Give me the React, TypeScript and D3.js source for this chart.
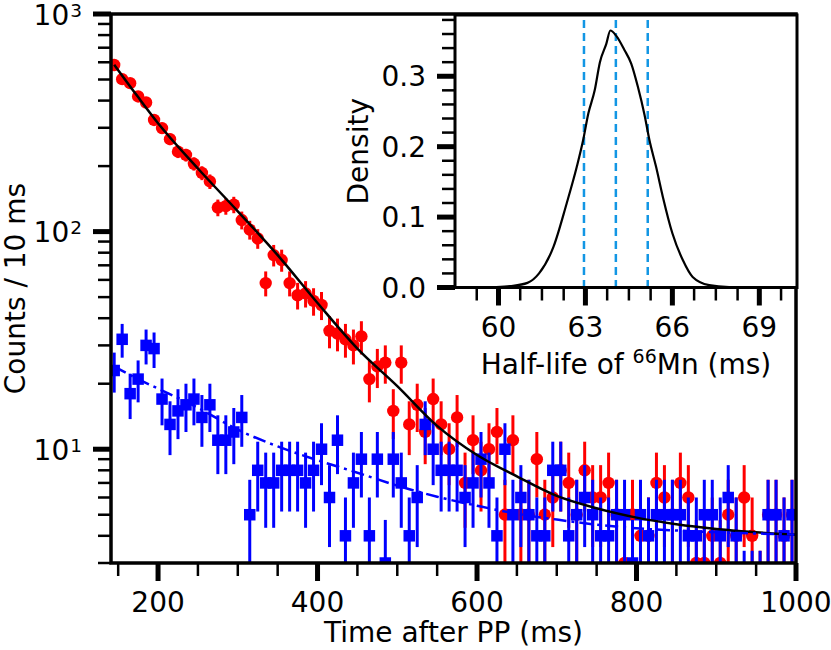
import { useEffect, useRef } from "react"
import * as d3 from "d3"

// 10 ms bins, bin centres (ms after proton pulse)
const binTimes = [
  145, 155, 165, 175, 185, 195, 205, 215, 225, 235, 245, 255, 265, 275, 285, 295, 305, 315, 325, 335,
  345, 355, 365, 375, 385, 395, 405, 415, 425, 435, 445, 455, 465, 475, 485, 495, 505, 515, 525, 535,
  545, 555, 565, 575, 585, 595, 605, 615, 625, 635, 645, 655, 665, 675, 685, 695, 705, 715, 725, 735,
  745, 755, 765, 775, 785, 795, 805, 815, 825, 835, 845, 855, 865, 875, 885, 895, 905, 915, 925, 935,
  945, 955, 965, 975, 985, 995,
]

// red circles: gated 66Mn decay counts
const mnCounts = [
  583, 502, 481, 418, 392, 326, 299, 266, 233, 225, 205, 186, 170, 129, 131, 133, 113, 102, 93, 58,
  78, 74, 58, 51, 52, 48, 46, 35, 34, 32, 30, 33, 21, 24, 25, 15, 25, 13, 16, 12,
  17, 13, 10, 14, 7, 11, 8, 10, 12, 5, 11, 5, 5, 9, 5, 6, 8, 7, 5, 8,
  6, 6, 7, 5, 3, 5, 4, 4, 7, 6, 5, 7, 6, 3, 3, 4, 3, 5, 4, 6,
  4, 2, 5, 5, 4, 5,
]

// blue squares: second gate
const bgCounts = [
  23, 32, 18, 21, 30, 29, 17, 13, 15, 16, 17, 14, 16, 11, 11, 12, 14, 5, 8, 7,
  7, 8, 8, 8, 7, 8, 10, 6, 11, 4, 7, 9, 4, 9, 3, 9, 7, 4, 6, 13,
  10, 8, 8, 8, 6, 7, 9, 7, 4, 10, 5, 6, 5, 4, 4, 8, 8, 4, 5, 6,
  5, 4, 4, 5, 5, 3, 5, 4, 5, 5, 5, 5, 4, 4, 5, 5, 4, 6, 4, 2,
  2, 2, 5, 5, 4, 5,
]

// fit curves
const fitTimes = [145, 175, 200, 250, 300, 350, 400, 450, 500, 550, 600, 650, 700, 750, 800, 850, 900, 950, 1000]
const mnFit = [585, 415, 315, 195, 124, 78, 47, 29, 19.5, 12.8, 9.4, 7.5, 6.1, 5.35, 4.85, 4.52, 4.3, 4.15, 4.05]
const bgFit = [24, 21, 19, 15.5, 12.3, 10.3, 8.9, 7.8, 6.8, 6.05, 5.5, 5.05, 4.75, 4.5, 4.33, 4.23, 4.15, 4.1, 4.05]

const xMajor = [200, 400, 600, 800, 1000]
const xMinor = [150, 250, 300, 350, 450, 500, 550, 650, 700, 750, 850, 900, 950]
const yMajor = [10, 100, 1000]
const yMajorExp = ["1", "2", "3"]
const yMinor = [3, 4, 5, 6, 7, 8, 9, 20, 30, 40, 50, 60, 70, 80, 90, 200, 300, 400, 500, 600, 700, 800, 900]

// inset: posterior of the half-life
const hlGrid = [
  59.5, 59.9, 60.4, 61.0, 61.4, 61.9, 62.35, 62.7, 62.92, 63.1, 63.32, 63.5, 63.72, 63.86, 64.07,
  64.35, 64.58, 64.81, 65.04, 65.21, 65.44, 65.67, 66.0, 66.36, 66.7, 67.27, 67.96, 69.0,
]
const hlDensity = [
  0, 0.0005, 0.002, 0.0066, 0.02, 0.058, 0.119, 0.171, 0.209, 0.247, 0.28, 0.32, 0.346, 0.365, 0.357,
  0.337, 0.318, 0.285, 0.245, 0.209, 0.171, 0.129, 0.077, 0.039, 0.015, 0.0033, 0.0005, 0,
]
const hlQuantiles = [62.95, 64.05, 65.15]
const insetXMajor = [60, 63, 66, 69]
const insetXMinor = [59.25, 60.75, 61.5, 62.25, 63.75, 64.5, 65.25, 66.75, 67.5, 68.25, 69.75]
const insetYMajor = [0, 0.1, 0.2, 0.3]
const insetYMinor = [0.02, 0.04, 0.06, 0.08, 0.12, 0.14, 0.16, 0.18, 0.22, 0.24, 0.26, 0.28, 0.32, 0.34, 0.36, 0.38]

export default function App() {
  const svgRef = useRef<SVGSVGElement>(null)

  useEffect(() => {
    if (!svgRef.current) return
    const svg = d3.select(svgRef.current)
    svg.selectAll("*").remove()

    const font = "DejaVu Sans, sans-serif"
    const fs = 28

    const left = 111, right = 796, top = 14, bottom = 563
    const x = d3.scaleLinear().domain([141, 1000]).range([left, right])
    const y = d3.scaleLog().domain([3, 1000]).range([bottom, top])

    svg
      .append("defs")
      .append("clipPath")
      .attr("id", "plot-clip")
      .append("rect")
      .attr("x", left)
      .attr("y", top)
      .attr("width", right - left)
      .attr("height", bottom - top)

    const plot = svg.append("g").attr("clip-path", "url(#plot-clip)")

    const drawSeries = (counts: number[], color: string, square: boolean) => {
      const pts = binTimes.map((t, i) => ({ t, n: counts[i] }))
      const g = plot.append("g")
      g.selectAll("line")
        .data(pts)
        .join("line")
        .attr("x1", (d) => x(d.t))
        .attr("x2", (d) => x(d.t))
        .attr("y1", (d) => y(d.n + Math.sqrt(d.n)))
        .attr("y2", (d) => y(Math.max(d.n - Math.sqrt(d.n), 0.5)))
        .attr("stroke", color)
        .attr("stroke-width", 3)
      if (square) {
        const s = 11.5
        g.selectAll("rect")
          .data(pts)
          .join("rect")
          .attr("x", (d) => x(d.t) - s / 2)
          .attr("y", (d) => y(d.n) - s / 2)
          .attr("width", s)
          .attr("height", s)
          .attr("fill", color)
      } else {
        g.selectAll("circle")
          .data(pts)
          .join("circle")
          .attr("cx", (d) => x(d.t))
          .attr("cy", (d) => y(d.n))
          .attr("r", 6.2)
          .attr("fill", color)
      }
    }

    drawSeries(mnCounts, "#ff0000", false)
    drawSeries(bgCounts, "#0000ff", true)

    const fitLine = d3
      .line<number>()
      .x((_, i) => x(fitTimes[i]))
      .y((d) => y(d))
      .curve(d3.curveMonotoneX)

    plot
      .append("path")
      .datum(mnFit)
      .attr("fill", "none")
      .attr("stroke", "#000")
      .attr("stroke-width", 2.5)
      .attr("d", fitLine)

    plot
      .append("path")
      .datum(bgFit)
      .attr("fill", "none")
      .attr("stroke", "#0000ff")
      .attr("stroke-width", 2.5)
      .attr("stroke-dasharray", "13,5,3,5")
      .attr("d", fitLine)

    // ticks
    const ticksX = (vals: number[], sc: (v: number) => number, base: number, len: number, w: number) => {
      svg.append("g")
        .selectAll("line")
        .data(vals)
        .join("line")
        .attr("x1", (d) => sc(d))
        .attr("x2", (d) => sc(d))
        .attr("y1", base)
        .attr("y2", base + len)
        .attr("stroke", "#000")
        .attr("stroke-width", w)
    }
    const ticksY = (vals: number[], sc: (v: number) => number, base: number, len: number, w: number) => {
      svg.append("g")
        .selectAll("line")
        .data(vals)
        .join("line")
        .attr("y1", (d) => sc(d))
        .attr("y2", (d) => sc(d))
        .attr("x1", base)
        .attr("x2", base - len)
        .attr("stroke", "#000")
        .attr("stroke-width", w)
    }

    ticksX(xMinor, x, bottom, 13, 2.5)
    ticksX(xMajor, x, bottom, 18, 5)
    ticksY(yMinor, y, left, 13, 2.5)
    ticksY(yMajor, y, left, 18, 5)

    svg
      .append("rect")
      .attr("x", left)
      .attr("y", top)
      .attr("width", right - left)
      .attr("height", bottom - top)
      .attr("fill", "none")
      .attr("stroke", "#000")
      .attr("stroke-width", 3.5)

    svg.append("g")
      .selectAll("text")
      .data(xMajor)
      .join("text")
      .attr("x", (d) => x(d))
      .attr("y", 612)
      .attr("text-anchor", "middle")
      .attr("font-family", font)
      .attr("font-size", fs)
      .text((d) => String(d))

    const yl = svg.append("g")
      .selectAll("text")
      .data(yMajor)
      .join("text")
      .attr("x", 82)
      .attr("y", (d) => y(d) + 10.5)
      .attr("text-anchor", "end")
      .attr("font-family", font)
      .attr("font-size", fs)
    yl.append("tspan").text("10")
    yl.append("tspan")
      .attr("font-size", 18.5)
      .attr("dx", 1)
      .attr("dy", -8)
      .text((_, i) => yMajorExp[i])

    svg
      .append("text")
      .attr("x", (left + right) / 2)
      .attr("y", 642)
      .attr("text-anchor", "middle")
      .attr("font-family", font)
      .attr("font-size", fs)
      .text("Time after PP (ms)")

    svg
      .append("text")
      .attr("transform", `translate(25,${(top + bottom) / 2}) rotate(-90)`)
      .attr("text-anchor", "middle")
      .attr("font-family", font)
      .attr("font-size", fs)
      .text("Counts / 10 ms")

    // inset
    const il = 455, ir = 797, it = 15, ib = 287.5
    const ix = d3.scaleLinear().domain([58.5, 70.3]).range([il, ir])
    const iy = d3.scaleLinear().domain([0, 0.387]).range([ib, it])

    svg
      .append("rect")
      .attr("x", il)
      .attr("y", it)
      .attr("width", ir - il)
      .attr("height", ib - it)
      .attr("fill", "#fff")

    svg
      .append("g")
      .selectAll("line")
      .data(hlQuantiles)
      .join("line")
      .attr("x1", (d) => ix(d))
      .attr("x2", (d) => ix(d))
      .attr("y1", it + 5)
      .attr("y2", ib)
      .attr("stroke", "#1296e4")
      .attr("stroke-width", 2.5)
      .attr("stroke-dasharray", "8,5")

    const hist = d3
      .line<number>()
      .x((_, i) => ix(hlGrid[i]))
      .y((d) => iy(d))
      .curve(d3.curveMonotoneX)

    svg
      .append("path")
      .datum(hlDensity)
      .attr("fill", "none")
      .attr("stroke", "#000")
      .attr("stroke-width", 2.2)
      .attr("d", hist)

    ticksX(insetXMinor, ix, ib, 13, 2.5)
    ticksX(insetXMajor, ix, ib, 18, 5)
    ticksY(insetYMinor, iy, il, 13, 2.5)
    ticksY(insetYMajor, iy, il, 18, 5)

    svg
      .append("rect")
      .attr("x", il)
      .attr("y", it)
      .attr("width", ir - il)
      .attr("height", ib - it)
      .attr("fill", "none")
      .attr("stroke", "#000")
      .attr("stroke-width", 3)

    svg.append("g")
      .selectAll("text")
      .data(insetXMajor)
      .join("text")
      .attr("x", (d) => ix(d))
      .attr("y", 337)
      .attr("text-anchor", "middle")
      .attr("font-family", font)
      .attr("font-size", fs)
      .text((d) => String(d))

    svg.append("g")
      .selectAll("text")
      .data(insetYMajor)
      .join("text")
      .attr("x", 426)
      .attr("y", (d) => iy(d) + 10)
      .attr("text-anchor", "end")
      .attr("font-family", font)
      .attr("font-size", fs)
      .text((d) => d.toFixed(1))

    const hl = svg
      .append("text")
      .attr("x", (il + ir) / 2)
      .attr("y", 374)
      .attr("text-anchor", "middle")
      .attr("font-family", font)
      .attr("font-size", fs)
    hl.append("tspan").text("Half-life of ")
    hl.append("tspan").attr("font-size", 19).attr("dy", -11).text("66")
    hl.append("tspan").attr("dy", 11).text("Mn (ms)")

    svg
      .append("text")
      .attr("transform", `translate(368,${(it + ib) / 2}) rotate(-90)`)
      .attr("text-anchor", "middle")
      .attr("font-family", font)
      .attr("font-size", fs)
      .text("Density")
  }, [])

  return (
    <svg
      ref={svgRef}
      width={831}
      height={650}
      style={{ position: "absolute", left: 0, top: 0, background: "#fff" }}
    />
  )
}
